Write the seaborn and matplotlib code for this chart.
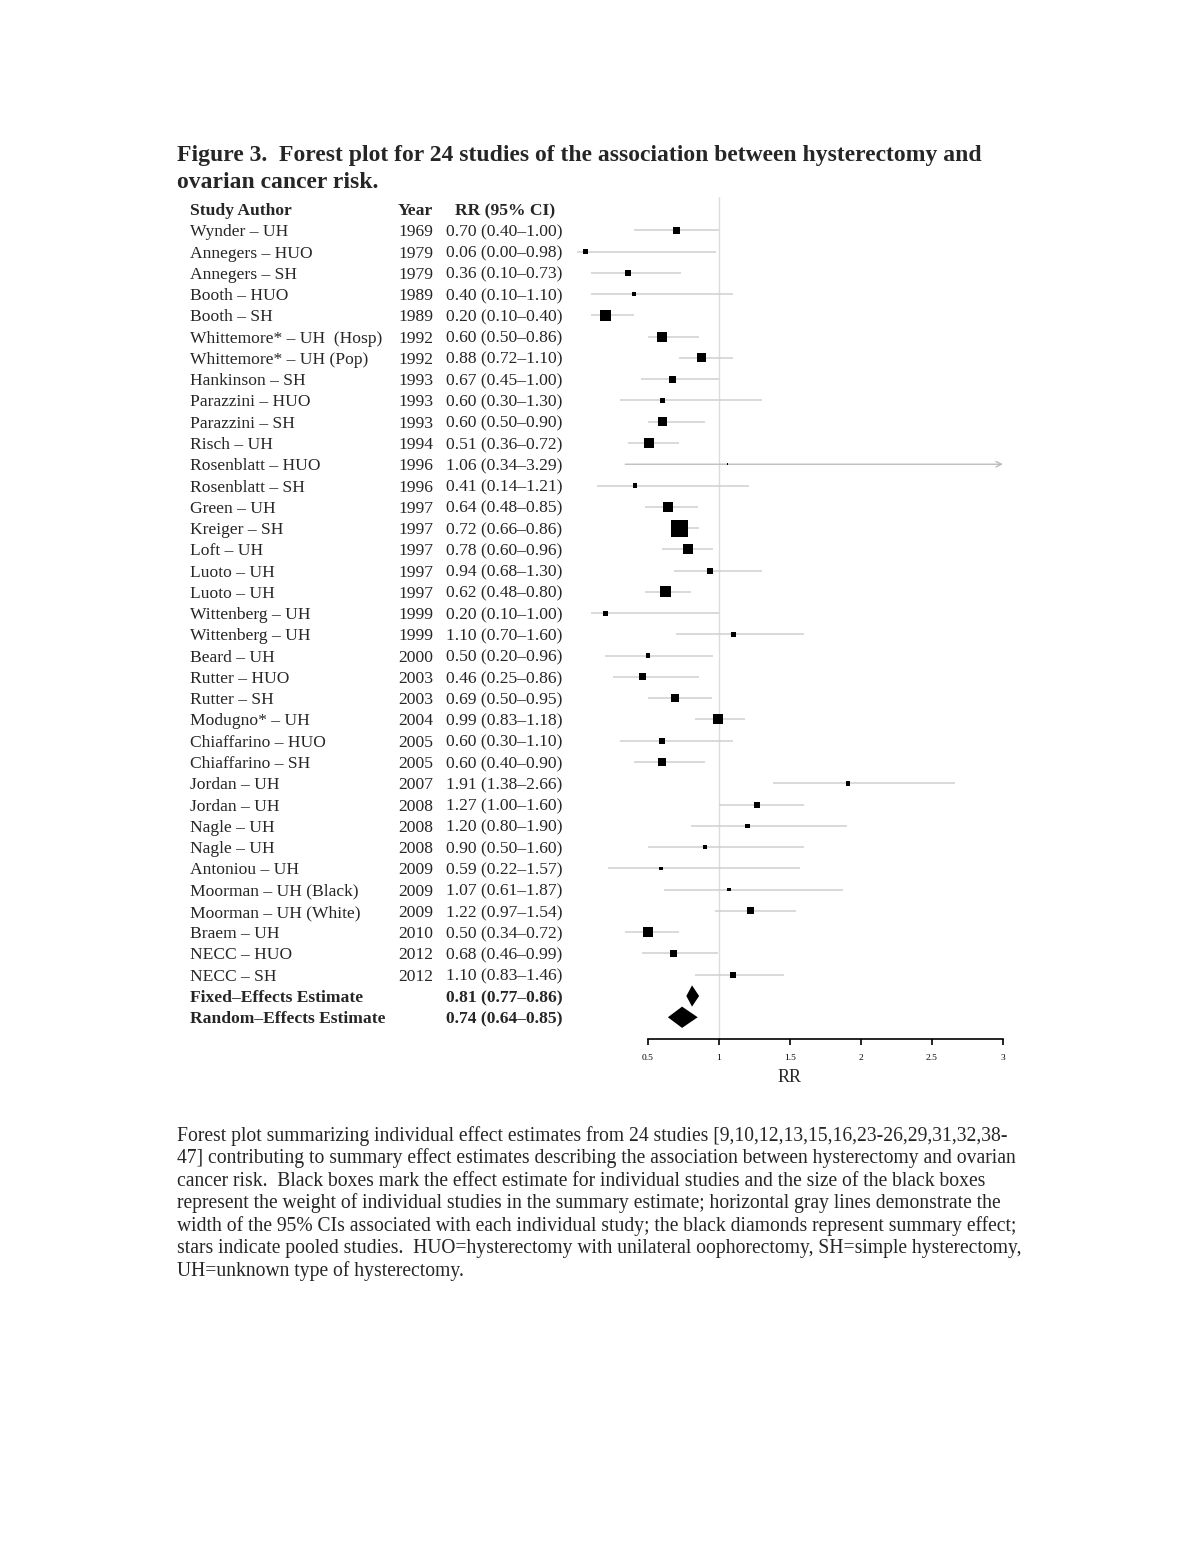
import numpy as np
import pandas as pd
import matplotlib
matplotlib.use("Agg")
import matplotlib.pyplot as plt
import matplotlib.transforms as mtransforms
from matplotlib.patches import Polygon
import seaborn as sns

# ── Data ─────────────────────────────────────────────────────────────────────
authors = ["Wynder – UH", "Annegers – HUO", "Annegers – SH", "Booth – HUO",
           "Booth – SH", "Whittemore* – UH  (Hosp)", "Whittemore* – UH (Pop)",
           "Hankinson – SH", "Parazzini – HUO", "Parazzini – SH", "Risch – UH",
           "Rosenblatt – HUO", "Rosenblatt – SH", "Green – UH", "Kreiger – SH",
           "Loft – UH", "Luoto – UH", "Luoto – UH", "Wittenberg – UH",
           "Wittenberg – UH", "Beard – UH", "Rutter – HUO", "Rutter – SH",
           "Modugno* – UH", "Chiaffarino – HUO", "Chiaffarino – SH",
           "Jordan – UH", "Jordan – UH", "Nagle – UH", "Nagle – UH",
           "Antoniou – UH", "Moorman – UH (Black)", "Moorman – UH (White)",
           "Braem – UH", "NECC – HUO", "NECC – SH"]
years = [1969, 1979, 1979, 1989, 1989, 1992, 1992, 1993, 1993, 1993, 1994,
         1996, 1996, 1997, 1997, 1997, 1997, 1997, 1999, 1999, 2000, 2003,
         2003, 2004, 2005, 2005, 2007, 2008, 2008, 2008, 2009, 2009, 2009,
         2010, 2012, 2012]
rr = [0.70, 0.06, 0.36, 0.40, 0.20, 0.60, 0.88, 0.67, 0.60, 0.60, 0.51, 1.06,
      0.41, 0.64, 0.72, 0.78, 0.94, 0.62, 0.20, 1.10, 0.50, 0.46, 0.69, 0.99,
      0.60, 0.60, 1.91, 1.27, 1.20, 0.90, 0.59, 1.07, 1.22, 0.50, 0.68, 1.10]
ci_lo = [0.40, 0.00, 0.10, 0.10, 0.10, 0.50, 0.72, 0.45, 0.30, 0.50, 0.36, 0.34,
         0.14, 0.48, 0.66, 0.60, 0.68, 0.48, 0.10, 0.70, 0.20, 0.25, 0.50, 0.83,
         0.30, 0.40, 1.38, 1.00, 0.80, 0.50, 0.22, 0.61, 0.97, 0.34, 0.46, 0.83]
ci_hi = [1.00, 0.98, 0.73, 1.10, 0.40, 0.86, 1.10, 1.00, 1.30, 0.90, 0.72, 3.29,
         1.21, 0.85, 0.86, 0.96, 1.30, 0.80, 1.00, 1.60, 0.96, 0.86, 0.95, 1.18,
         1.10, 0.90, 2.66, 1.60, 1.90, 1.60, 1.57, 1.87, 1.54, 0.72, 0.99, 1.46]
# relative study weight
weight = [4.9, 2.5, 3.6, 1.2, 12.1, 10.0, 8.1, 4.9, 2.5, 8.1, 10.0, 0.3,
          2.0, 10.0, 28.9, 10.0, 3.6, 12.1, 2.5, 2.5, 2.0, 4.9, 6.4, 10.0,
          3.6, 6.4, 2.0, 3.6, 2.0, 1.6, 1.2, 1.2, 4.9, 9.0, 4.9, 3.6]

summary_labels = ["Fixed–Effects Estimate", "Random–Effects Estimate"]
summary_rr = [0.81, 0.74]
summary_lo = [0.77, 0.64]
summary_hi = [0.86, 0.85]

x_ticks = [0.5, 1, 1.5, 2, 2.5, 3]
x_max = 3.0

title_lines = ["Figure 3.  Forest plot for 24 studies of the association between hysterectomy and",
               "ovarian cancer risk."]
caption_lines = [
    "Forest plot summarizing individual effect estimates from 24 studies [9,10,12,13,15,16,23-26,29,31,32,38-",
    "47] contributing to summary effect estimates describing the association between hysterectomy and ovarian",
    "cancer risk.  Black boxes mark the effect estimate for individual studies and the size of the black boxes",
    "represent the weight of individual studies in the summary estimate; horizontal gray lines demonstrate the",
    "width of the 95% CIs associated with each individual study; the black diamonds represent summary effect;",
    "stars indicate pooled studies.  HUO=hysterectomy with unilateral oophorectomy, SH=simple hysterectomy,",
    "UH=unknown type of hysterectomy.",
]

df = pd.DataFrame({"author": authors, "year": years, "rr": rr,
                   "lo": ci_lo, "hi": ci_hi, "weight": weight})
df["row"] = np.arange(1, len(df) + 1)

# ── Style ────────────────────────────────────────────────────────────────────
sns.set_style("white")
plt.rcParams["font.family"] = ["Liberation Serif", "DejaVu Serif"]
GRAY = "#cfcfcf"

W, H = 1200, 1553
fig = plt.figure(figsize=(W / 100, H / 100), dpi=100)

# axes: x from RR=0 (px 577) to RR=3 (px 1003); rows spaced ~21.27 px
left_px, right_px, top_px, bot_px = 577, 1003, 197, 1039
ax = fig.add_axes([left_px / W, 1 - bot_px / H,
                   (right_px - left_px) / W, (bot_px - top_px) / H])
row_h = 21.27
y_top = -(209 - top_px) / row_h
y_bot = (bot_px - 209) / row_h
ax.set_xlim(0, x_max)
ax.set_ylim(y_bot, y_top)

# reference line at RR = 1
ax.axvline(1, color="#dcdcdc", lw=1, zorder=0)

# CI lines
for _, r in df.iterrows():
    if r["hi"] > x_max:
        ax.annotate("", xy=(x_max, r["row"]), xytext=(r["lo"], r["row"]),
                    arrowprops=dict(arrowstyle="->", color="#bdbdbd", lw=1,
                                    shrinkA=0, shrinkB=0), zorder=1)
    else:
        ax.hlines(r["row"], r["lo"], r["hi"], color=GRAY, lw=1.1, zorder=1)

# study boxes (area proportional to weight)
side_per_w = 0.72 ** 2 * 10  # pt^2 per weight unit
wmax = max(weight)
sns.scatterplot(data=df, x="rr", y="row", size="weight",
                sizes=(0, wmax * side_per_w), size_norm=(0, wmax),
                marker="s", color="black", linewidth=0, legend=False,
                ax=ax, zorder=3)

# summary diamonds
n = len(df)
for i, (est, lo, hi) in enumerate(zip(summary_rr, summary_lo, summary_hi)):
    yy = n + 1 + i
    ax.add_patch(Polygon([(lo, yy), (est, yy - 0.5), (hi, yy), (est, yy + 0.5)],
                         closed=True, color="black", lw=0, zorder=3))

# axis styling
for s in ["top", "right", "left"]:
    ax.spines[s].set_visible(False)
ax.spines["bottom"].set_bounds(0.5, 3)
ax.spines["bottom"].set_linewidth(1.2)
ax.spines["bottom"].set_color("black")
ax.set_xticks(x_ticks)
ax.set_xticklabels([f"{t:g}" for t in x_ticks], fontsize=6.8)
ax.tick_params(axis="x", bottom=True, direction="out", length=4, width=1.2,
               pad=7, colors="black")
ax.set_yticks([])
ax.set_xlabel("RR", fontsize=13, labelpad=5)
ax.set_ylabel("")
ax.grid(False)

# table text
trans = mtransforms.blended_transform_factory(fig.transFigure, ax.transData)
fs = 12.6
VA = "center_baseline"
x_auth, x_year, x_rr = 190 / W, 398 / W, 446 / W
ax.text(x_auth, 0, "Study Author", transform=trans, fontsize=fs,
        fontweight="bold", va=VA, ha="left")
ax.text(x_year, 0, "Year", transform=trans, fontsize=fs,
        fontweight="bold", va=VA, ha="left")
ax.text(455 / W, 0, "RR (95% CI)", transform=trans, fontsize=fs,
        fontweight="bold", va=VA, ha="left")
for _, r in df.iterrows():
    ax.text(x_auth, r["row"], r["author"], transform=trans, fontsize=fs,
            va=VA, ha="left")
    ax.text(x_year, r["row"], str(r["year"]), transform=trans, fontsize=fs,
            va=VA, ha="left")
    ax.text(x_rr, r["row"], f"{r['rr']:.2f} ({r['lo']:.2f}–{r['hi']:.2f})",
            transform=trans, fontsize=fs, va=VA, ha="left")
for i, lab in enumerate(summary_labels):
    yy = n + 1 + i
    ax.text(x_auth, yy, lab, transform=trans, fontsize=fs,
            fontweight="bold", va=VA, ha="left")
    ax.text(x_rr, yy, f"{summary_rr[i]:.2f} ({summary_lo[i]:.2f}–{summary_hi[i]:.2f})",
            transform=trans, fontsize=fs, fontweight="bold", va=VA, ha="left")

# title
for i, line in enumerate(title_lines):
    fig.text(177 / W, 1 - (155 + 27 * i) / H, line, fontsize=17,
             fontweight="bold", va="center", ha="left")

# caption
for i, line in enumerate(caption_lines):
    fig.text(177 / W, 1 - (1136 + 22.5 * i) / H, line, fontsize=14.1,
             va="center", ha="left")

fig.savefig("out.png", dpi=100)
